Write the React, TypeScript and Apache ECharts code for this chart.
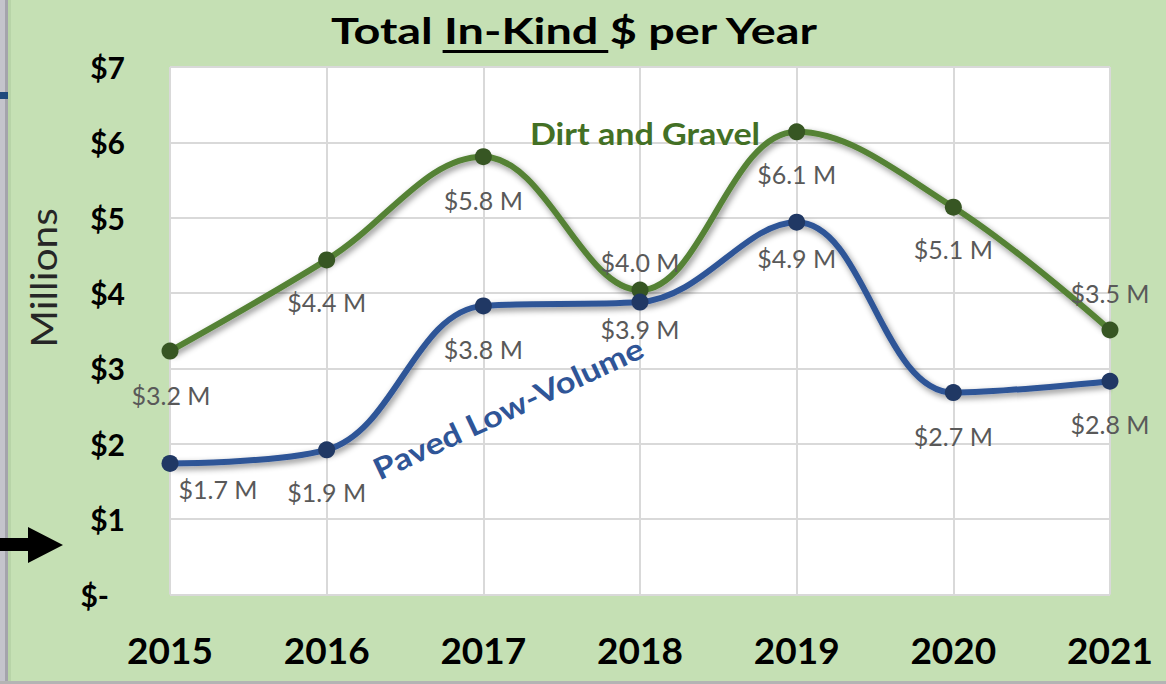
import React, { useEffect, useRef } from "react";
import * as echarts from "echarts";

const years = ["2015", "2016", "2017", "2018", "2019", "2020", "2021"];
const dirtGravel = [3.23, 4.44, 5.81, 4.04, 6.14, 5.14, 3.51];
const pavedLowVolume = [1.74, 1.92, 3.83, 3.88, 4.94, 2.68, 2.83];
const yTicks = [0, 1, 2, 3, 4, 5, 6, 7];

// label offsets (layout only)
const dirtOffsets: number[][] = [[1, 44], [0, 42], [0, 43], [0, -28], [0, 42], [0, 42], [0, -37]];
const pavedOffsets: number[][] = [[48, 26], [0, 42], [0, 43], [0, 27], [0, 36], [0, 43], [0, 43]];

const FONT = "Lato, 'Open Sans', sans-serif";

function measure(text: string, font: string): number {
  const c = document.createElement("canvas");
  const ctx = c.getContext("2d")!;
  ctx.font = font;
  return ctx.measureText(text).width;
}

export default function App() {
  const ref = useRef<HTMLDivElement>(null);

  useEffect(() => {
    if (!ref.current) return;
    const chart = echarts.init(ref.current, null, { renderer: "svg" });

    const titleSize = 36;
    const titleScale = 1.3;
    const titleFont = `bold ${titleSize}px Lato`;
    const full = "Total In-Kind $ per Year";
    const wFull = measure(full, titleFont) * titleScale;
    const wPre = measure("Total ", titleFont) * titleScale;
    const wUnder = measure("In-Kind ", titleFont) * titleScale;
    const titleCx = 574;
    const titleLeft = titleCx - wFull / 2;

    const mkData = (vals: number[], offs: number[][]) =>
      vals.map((v, i) => ({
        value: v,
        label: { offset: offs[i] },
      }));

    const labelStyle = {
      show: true,
      position: "inside" as const,
      formatter: (p: any) => "$" + Number(p.value).toFixed(1) + " M",
      fontFamily: FONT,
      fontSize: 25,
      color: "#595959",
    };

    const lineShadow = {
      shadowColor: "rgba(0,0,0,0.45)",
      shadowBlur: 6,
      shadowOffsetX: 2,
      shadowOffsetY: 3,
    };

    chart.setOption({
      animation: false,
      backgroundColor: "#c5e0b4",
      grid: {
        left: 170,
        right: 56,
        top: 67,
        bottom: 89.5,
        show: true,
        backgroundColor: "#ffffff",
        borderWidth: 0,
      },
      xAxis: {
        type: "category",
        data: years,
        boundaryGap: false,
        axisLine: { show: false },
        axisTick: { show: false },
        axisLabel: {
          fontFamily: FONT,
          fontWeight: "bold",
          fontSize: 37,
          color: "#000",
          margin: 36,
        },
        splitLine: { show: true, lineStyle: { color: "#d9d9d9", width: 2 } },
      },
      yAxis: {
        type: "value",
        min: yTicks[0],
        max: yTicks[yTicks.length - 1],
        interval: 1,
        axisLine: { show: false },
        axisTick: { show: false },
        axisLabel: {
          fontFamily: FONT,
          fontWeight: "bold",
          fontSize: 30,
          color: "#000",
          margin: 45,
          formatter: (v: number) => (v === 0 ? "{z|$-}" : "$" + v),
          rich: {
            z: { fontFamily: FONT, fontWeight: "bold", fontSize: 30, color: "#000", padding: [0, 16, 0, 0] },
          },
        },
        splitLine: { show: true, lineStyle: { color: "#d9d9d9", width: 2 } },
      },
      series: [
        {
          name: "Dirt and Gravel",
          type: "line",
          smooth: 0.38,
          data: mkData(dirtGravel, dirtOffsets),
          symbol: "circle",
          symbolSize: 17,
          itemStyle: { color: "#375623" },
          lineStyle: { color: "#548235", width: 6, ...lineShadow },
          label: labelStyle,
          z: 3,
        },
        {
          name: "Paved Low-Volume",
          type: "line",
          smooth: 0.38,
          data: mkData(pavedLowVolume, pavedOffsets),
          symbol: "circle",
          symbolSize: 17,
          itemStyle: { color: "#203864" },
          lineStyle: { color: "#2f5597", width: 6, ...lineShadow },
          label: labelStyle,
          z: 4,
        },
      ],
      graphic: [
        // left window strip
        { type: "rect", shape: { x: 0, y: 0, width: 5, height: 684 }, style: { fill: "#c4c4cc" }, z: 10 },
        { type: "rect", shape: { x: 5, y: 0, width: 3, height: 684 }, style: { fill: "#a4a4ac" }, z: 10 },
        { type: "rect", shape: { x: 8, y: 0, width: 3, height: 684 }, style: { fill: "#b8d4a8" }, z: 10 },
        { type: "rect", shape: { x: 0, y: 92, width: 8, height: 7 }, style: { fill: "#1f4a7d" }, z: 11 },
        { type: "rect", shape: { x: 0, y: 681, width: 1166, height: 3 }, style: { fill: "#b4b4b4" }, z: 10 },
        // arrow
        {
          type: "polygon",
          shape: {
            points: [[0, 538], [28, 538], [28, 527], [63, 545], [28, 563], [28, 551], [0, 551]],
          },
          style: { fill: "#000" },
          z: 12,
        },
        // title
        {
          type: "text",
          x: titleCx,
          y: 30,
          scaleX: titleScale,
          style: {
            text: full,
            fontFamily: FONT,
            fontWeight: "bold",
            fontSize: titleSize,
            fill: "#000",
            align: "center",
            verticalAlign: "middle",
          },
          z: 10,
        },
        {
          type: "rect",
          shape: { x: titleLeft + wPre, y: 50, width: wUnder, height: 3 },
          style: { fill: "#000" },
          z: 10,
        },
        // y axis name
        {
          type: "text",
          x: 43,
          y: 278,
          rotation: Math.PI / 2,
          scaleX: 1.1,
          style: {
            text: "Millions",
            fontFamily: FONT,
            fontSize: 37,
            fill: "#262626",
            align: "center",
            verticalAlign: "middle",
          },
          z: 10,
        },
        // series annotations
        {
          type: "text",
          x: 645,
          y: 133,
          scaleX: 1.1,
          style: {
            text: "Dirt and Gravel",
            fontFamily: FONT,
            fontWeight: "bold",
            fontSize: 31,
            fill: "#437025",
            align: "center",
            verticalAlign: "middle",
          },
          z: 10,
        },
        {
          type: "text",
          x: 508,
          y: 408,
          rotation: (25 * Math.PI) / 180,
          scaleX: 1.15,
          style: {
            text: "Paved Low-Volume",
            fontFamily: FONT,
            fontWeight: "bold",
            fontSize: 30,
            fill: "#2f5597",
            align: "center",
            verticalAlign: "middle",
          },
          z: 10,
        },
      ],
    });

    return () => chart.dispose();
  }, []);

  return (
    <div
      ref={ref}
      style={{ position: "absolute", left: 0, top: 0, width: 1166, height: 684 }}
    />
  );
}
